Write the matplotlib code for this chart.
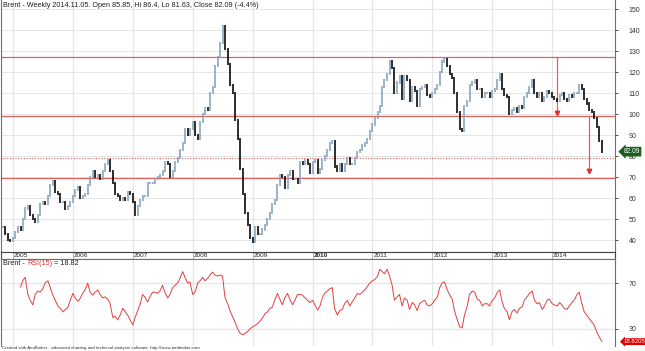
import matplotlib
matplotlib.use('Agg')
import matplotlib.pyplot as plt
import matplotlib.dates as mdates
import numpy as np
import pandas as pd
from matplotlib.transforms import blended_transform_factory

plt.rcParams['font.family'] = ['Liberation Sans', 'DejaVu Sans']

# ---------------- data (semi-monthly closes) ----------------
start_date = '2004-11-01'
close = [
    # 2004 Nov-Dec
    46, 43, 40, 39.5,
    # 2005
    41, 44, 46, 45, 50, 55, 56, 52, 50, 48.6, 52, 57, 58, 57, 61, 66, 68, 63, 62, 58, 58, 55, 56, 58,
    # 2006
    61, 64, 65, 60, 61, 62, 66, 70, 73, 70, 71, 69, 73, 76, 78, 73, 67, 62, 61, 59, 60, 59, 63, 62,
    # 2007
    58, 52, 56, 59, 61, 61, 67, 67, 67, 69, 70, 71, 73, 77, 76, 70, 73, 77, 79, 83, 86, 93, 90, 93,
    # 2008
    96, 90, 88, 96, 100, 103, 102, 110, 113, 123, 127, 134, 142, 131, 124, 114, 110, 97, 88, 74, 62, 53, 47, 41,
    # 2009
    39, 46, 43, 43, 45, 47, 50, 53, 57, 59, 66, 71, 70, 65, 71, 73, 69, 69, 67, 77, 76, 78, 76, 72,
    # 2010
    77, 78, 72, 74, 78, 80, 83, 86, 87, 75, 73, 76, 73, 76, 79, 76, 76, 79, 82, 83, 85, 86, 88, 92,
    # 2011
    95, 98, 101, 104, 113, 116, 119, 125, 122, 110, 115, 118, 107, 118, 116, 106, 113, 111, 104, 112, 113, 114, 109, 108,
    # 2012
    110, 112, 114, 120, 125, 126, 123, 119, 117, 110, 101, 93, 92, 104, 106, 114, 115, 116, 112, 112, 108, 110, 110, 108,
    # 2013
    111, 112, 116, 119, 112, 109, 108, 100, 102, 103, 101, 104, 103, 108, 110, 113, 116, 110, 108, 110, 106, 108, 111, 110,
    # 2014 Jan-Nov
    108, 107, 106, 109, 110, 107, 106, 109, 108, 110, 110, 114, 112, 107, 105, 102, 101, 98, 94, 87, 82.09,
]

rsi = [
    # 2005 Feb15..Dec15
    66.5, 72, 75, 60, 55, 51, 60, 63, 62, 65, 70, 72, 66, 59, 55, 50, 48, 45, 47, 49, 55,
    # 2006
    61, 57, 54, 57, 61, 64, 70, 62, 59.5, 62, 64, 60, 57, 58, 56, 52, 40, 41, 38, 42, 48, 45, 42, 38,
    # 2007
    33.5, 40, 46.5, 52, 60, 58, 53.5, 58, 62, 62, 61, 63, 68, 62, 57, 60, 66, 68, 70, 74, 80, 75, 70, 71,
    # 2008
    60, 62, 70, 72, 75, 72, 74, 77, 79.5, 77, 76, 77, 76, 58, 52, 46, 40.5, 36, 30, 26.5, 25, 26, 28, 30,
    # 2009
    32, 33, 35, 37, 39.5, 43, 45, 48, 49, 55, 61, 56, 51, 57, 61, 56, 51, 55, 60, 60, 59.5, 57, 55, 53,
    # 2010
    55, 51, 46.5, 50, 57, 61, 63, 65, 66, 48, 42, 46, 47, 52, 55, 50, 54, 57, 61, 60, 62, 64, 67, 70,
    # 2011
    72, 73, 76, 82, 80, 78, 82, 76, 68, 55, 58, 60, 50, 57, 55, 47, 53, 51, 46, 52, 54, 55, 51, 50,
    # 2012
    52, 55, 58, 66, 70, 71, 64, 60, 56, 46, 38, 32, 31, 42, 50, 60, 63, 62, 56, 55, 50, 52, 52, 50,
    # 2013
    55, 57, 62, 64, 54, 48, 45, 38, 45, 47, 44, 48, 49, 55, 58, 61, 63, 55, 52, 53, 47, 50, 55, 56,
    # 2014
    52, 51, 50, 53, 51, 48, 47, 50, 53, 55, 60, 62, 52, 45, 42, 39, 36, 33, 27, 23, 19,
]

years = list(range(2005, 2015))
price_ticks = list(range(40, 151, 10))
rsi_ticks = [30, 70]
level_solid = [127, 99, 69.5]
level_dotted = [79]
arrow_a = ('2014-02-01', 127, 99.5)
arrow_b = ('2014-08-15', 99, 71.5)

title_text = 'Brent - Weekly 2014.11.05. Open 85.85, Hi 86.4, Lo 81.63, Close 82.09 (-4.4%)'
last_close_txt = '82.09'
last_rsi_txt = '18.8205'
footer = ('Created with AmiBroker - advanced charting and technical analysis software. '
          'http://www.amibroker.com')

# ---------------- figure ----------------
W, H = 645, 351
fig = plt.figure(figsize=(W / 100, H / 100), dpi=100)
fig.patch.set_facecolor('white')

def fy(py):
    return 1 - py / H

L = 1 / W
R = 615 / W
ax = fig.add_axes([L, fy(252), R - L, 252 / H])
axs = fig.add_axes([L, fy(259), R - L, 7 / H])
axr = fig.add_axes([L, fy(346), R - L, (346 - 259) / H])

dates = pd.date_range(start_date, periods=len(close), freq='SMS')
x = mdates.date2num(dates.to_pydatetime())
close_a = np.array(close, dtype=float)

xmin = mdates.date2num(pd.Timestamp('2004-10-19').to_pydatetime())
xmax = mdates.date2num(pd.Timestamp('2015-01-19').to_pydatetime())
year_x = [mdates.date2num(pd.Timestamp(f'{y}-01-01').to_pydatetime()) for y in years]

grid_c = '#e6e6e6'
spine_c = '#707070'
tick_c = '#333333'

# ---- main price panel ----
for yx in year_x:
    ax.axvline(yx, color=grid_c, lw=0.9, zorder=0)
for t in price_ticks:
    ax.axhline(t, color=grid_c, lw=0.7, zorder=0)

opens = np.concatenate([[close_a[0]], close_a[:-1]])
up = close_a >= opens
lo = np.minimum(opens, close_a)
hi = np.maximum(opens, close_a)
ax.vlines(x[up], lo[up] - 0.5, hi[up] + 0.5, colors='#86a2bb', lw=1.15, zorder=3)
ax.vlines(x[~up], lo[~up] - 0.5, hi[~up] + 0.5, colors='black', lw=1.15, zorder=3)

red = '#e06060'
for lv in level_solid:
    ax.axhline(lv, color=red, lw=0.9, zorder=2)
for lv in level_dotted:
    ax.axhline(lv, color=red, lw=0.8, ls=(0, (1, 1.5)), zorder=2)

for d, y0, y1 in (arrow_a, arrow_b):
    xd = mdates.date2num(pd.Timestamp(d).to_pydatetime())
    ax.plot([xd, xd], [y0, y1 + 1.5], color=red, lw=0.9, zorder=2)
    ax.plot([xd], [y1 + 1.2], marker='v', color='#e03030', ms=3.2, zorder=4)

ax.set_xlim(xmin, xmax)
ax.set_ylim(34.3, 154.3)
ax.yaxis.tick_right()
ax.set_yticks(price_ticks)
ax.set_yticklabels([str(t) for t in price_ticks])
ax.tick_params(axis='y', length=2, pad=8, labelsize=5, colors=tick_c, width=0.6)
ax.set_xticks([])
for s in ax.spines.values():
    s.set_color(spine_c)
    s.set_linewidth(0.8)
ax.spines['top'].set_visible(False)

ax.text(0.004, 0.992, title_text, transform=ax.transAxes, fontsize=5.2,
        va='top', ha='left', color='#222222')

tr = blended_transform_factory(ax.transAxes, ax.transData)
ax.text(1.014, close_a[-1], last_close_txt, transform=tr, fontsize=4.8, color='white',
        va='center', ha='left', zorder=10, clip_on=False,
        bbox=dict(boxstyle='larrow,pad=0.2', fc='#1d5e20', ec='none'))

# ---- year strip ----
axs.set_xlim(xmin, xmax)
axs.set_ylim(0, 1)
axs.set_xticks([])
axs.set_yticks([])
for s in axs.spines.values():
    s.set_color('#444444')
    s.set_linewidth(0.8)
for yv, yx in zip(years, year_x):
    axs.plot([yx, yx], [0, 1], color='#aaaaaa', lw=0.6)
    axs.text(yx + 6, 0.45, str(yv), fontsize=4.6, va='center', ha='left',
             color='#222222', fontweight='bold' if yv == 2010 else 'normal')

# ---- RSI panel ----
rsi_a = np.array(rsi, dtype=float)
xr = x[len(x) - len(rsi_a):]
for yx in year_x:
    axr.axvline(yx, color=grid_c, lw=0.9, zorder=0)
for t in rsi_ticks:
    axr.axhline(t, color=grid_c, lw=0.9, zorder=0)
axr.plot(xr, rsi_a, color='#e04040', lw=0.7, zorder=3)
axr.set_xlim(xmin, xmax)
axr.set_ylim(15.2, 90.9)
axr.yaxis.tick_right()
axr.set_yticks(rsi_ticks)
axr.set_yticklabels([str(t) for t in rsi_ticks])
axr.tick_params(axis='y', length=2, pad=8, labelsize=5, colors=tick_c, width=0.6)
axr.set_xticks([])
for s in axr.spines.values():
    s.set_color(spine_c)
    s.set_linewidth(0.8)
axr.spines['bottom'].set_visible(False)

t1 = axr.text(0.004, 0.985, 'Brent - ', transform=axr.transAxes, fontsize=5.2,
              va='top', ha='left', color='#222222')
t2 = axr.annotate('RSI(15)', xy=(1, 0), xycoords=t1, fontsize=5.2, va='bottom',
                  ha='left', color='#e03030')
axr.annotate(' = 18.82', xy=(1, 0), xycoords=t2, fontsize=5.2, va='bottom',
             ha='left', color='#222222')

trr = blended_transform_factory(axr.transAxes, axr.transData)
axr.text(1.014, rsi_a[-1], last_rsi_txt, transform=trr, fontsize=4.3, color='white',
         va='center', ha='left', zorder=10, clip_on=False,
         bbox=dict(boxstyle='larrow,pad=0.15', fc='#e00000', ec='none'))

fig.text(2 / W, fy(348.5), footer, fontsize=3.2, va='center', ha='left', color='#333333')

fig.savefig('out.png', dpi=100, facecolor='white')
